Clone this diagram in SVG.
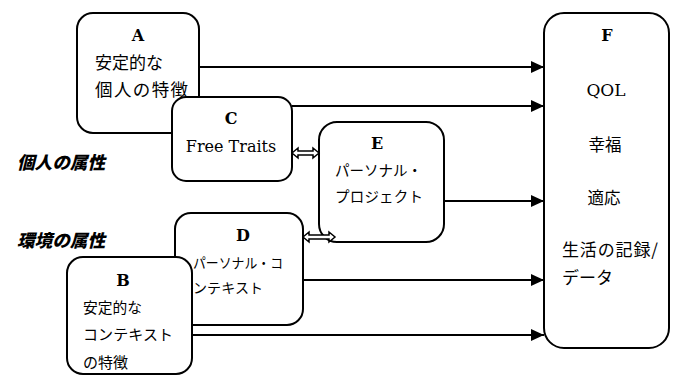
<svg xmlns="http://www.w3.org/2000/svg" width="679" height="377" viewBox="0 0 679 377">
<defs>
<style>
.box{fill:#fff;stroke:#000;stroke-width:2}
.t{font-family:"DejaVu Serif","Noto Sans CJK JP",serif;fill:#000}
.jp{font-family:"Noto Sans CJK JP","DejaVu Sans",sans-serif;fill:#000}
.ttl{font-family:"DejaVu Serif",serif;font-weight:bold;font-size:16px;text-anchor:middle}
.lbl{font-family:"Noto Sans CJK JP",sans-serif;font-weight:900;font-style:italic;font-size:17.5px}
.ln{stroke:#000;stroke-width:2;fill:none}
.dbl{fill:#fff;stroke:#000;stroke-width:1.5;stroke-linejoin:miter}
</style>
<marker id="ah" markerUnits="userSpaceOnUse" markerWidth="14" markerHeight="12" refX="13" refY="6" orient="auto">
<path d="M0,0 L13,6 L0,12 Z" fill="#000"/>
</marker>
</defs>
<rect width="679" height="377" fill="#fff"/>

<g id="label-individual"><text class="lbl" x="17" y="168.5" textLength="88" lengthAdjust="spacingAndGlyphs">個人の属性</text></g>
<g id="label-environment"><text class="lbl" x="17" y="246.5" textLength="88" lengthAdjust="spacingAndGlyphs">環境の属性</text></g>

<g id="nodeA">
<rect class="box" x="77" y="13" width="122" height="120" rx="16"/>
<text class="t ttl" x="138" y="41">A</text>
<text class="jp" x="95" y="69" font-size="17.5" textLength="68" lengthAdjust="spacingAndGlyphs">安定的な</text>
<text class="jp" x="95" y="96" font-size="17.5" textLength="93" lengthAdjust="spacing">個人の特徴</text>
</g>

<g id="nodeC">
<rect class="box" x="172" y="97" width="120" height="84" rx="14"/>
<text class="t ttl" x="231" y="124">C</text>
<text class="t" x="231" y="152" font-size="16" text-anchor="middle">Free Traits</text>
</g>

<g id="nodeD">
<rect class="box" x="175" y="213" width="128" height="112" rx="16"/>
<text class="t ttl" x="243" y="241">D</text>
<text class="jp" x="193" y="267.5" font-size="14" textLength="90" lengthAdjust="spacingAndGlyphs">パーソナル・コ</text>
<text class="jp" x="193" y="292.5" font-size="14" textLength="70" lengthAdjust="spacing">ンテキスト</text>
</g>

<g id="nodeB">
<rect class="box" x="67" y="257" width="125" height="117" rx="16"/>
<text class="t ttl" x="123" y="286">B</text>
<text class="jp" x="83" y="313" font-size="15" textLength="59" lengthAdjust="spacingAndGlyphs">安定的な</text>
<text class="jp" x="83" y="340" font-size="15" textLength="90" lengthAdjust="spacing">コンテキスト</text>
<text class="jp" x="83" y="368" font-size="15" textLength="45" lengthAdjust="spacing">の特徴</text>
</g>

<g id="nodeE">
<rect class="box" x="319" y="122" width="125" height="120" rx="18"/>
<text class="t ttl" x="377" y="149">E</text>
<text class="jp" x="335" y="175.5" font-size="14.5" textLength="87" lengthAdjust="spacing">パーソナル・</text>
<text class="jp" x="335" y="202" font-size="14.5" textLength="88" lengthAdjust="spacing">プロジェクト</text>
</g>

<g id="nodeF">
<rect class="box" x="544" y="13" width="125" height="335" rx="20"/>
<text class="t ttl" x="607" y="41">F</text>
<text class="t" x="606" y="96" font-size="17" text-anchor="middle">QOL</text>
<text class="jp" x="605" y="151" font-size="16.5" text-anchor="middle">幸福</text>
<text class="jp" x="604" y="204" font-size="16.5" text-anchor="middle">適応</text>
<text class="jp" x="562" y="256" font-size="17" textLength="96" lengthAdjust="spacing">生活の記録/</text>
<text class="jp" x="562" y="284" font-size="17">データ</text>
</g>

<g id="connectors">
<line class="ln" x1="199" y1="67" x2="544" y2="67" marker-end="url(#ah)"/>
<line class="ln" x1="292" y1="106" x2="544" y2="106" marker-end="url(#ah)"/>
<line class="ln" x1="444" y1="201" x2="544" y2="201" marker-end="url(#ah)"/>
<line class="ln" x1="303" y1="280" x2="544" y2="280" marker-end="url(#ah)"/>
<line class="ln" x1="192" y1="335" x2="544" y2="335" marker-end="url(#ah)"/>
<polygon class="dbl" points="292,153 298,148 298,151 313,151 313,148 319,153 313,158 313,155 298,155 298,158"/>
<polygon class="dbl" points="303,237 309,232 309,235 329,235 329,232 335,237 329,242 329,239 309,239 309,242"/>
</g>
</svg>
